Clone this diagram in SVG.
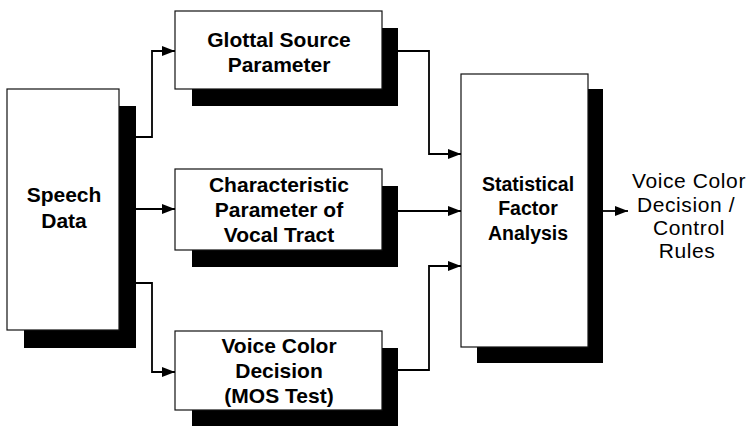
<svg xmlns="http://www.w3.org/2000/svg" width="753" height="426" viewBox="0 0 753 426">
  <style>
    .box { fill: #fff; stroke: #111; stroke-width: 1.2; }
    .shadow { fill: #000; }
    .bt { font-family: "Liberation Sans", Arial, sans-serif; font-weight: bold; font-size: 21px; fill: #000; text-anchor: middle; }
    .st { font-family: "Liberation Sans", Arial, sans-serif; font-weight: bold; font-size: 19.5px; fill: #000; text-anchor: middle; }
    .out { font-family: "Liberation Sans", Arial, sans-serif; font-size: 21px; fill: #000; text-anchor: middle; letter-spacing: 0.6px; }
    .conn { fill: none; stroke: #000; stroke-width: 1.8; marker-end: url(#arrow); }
  </style>
  <defs>
    <marker id="arrow" markerUnits="userSpaceOnUse" markerWidth="13" markerHeight="10" refX="13" refY="5" orient="auto">
      <path d="M0,0 L13,5 L0,10 Z" fill="#000"/>
    </marker>
  </defs>
  <rect width="753" height="426" fill="#fff"/>

  <g id="speech-data">
    <rect class="shadow" x="24" y="106" width="112" height="242"/>
    <rect class="box" x="7" y="89" width="112" height="241"/>
    <text class="bt" x="64" y="202">Speech</text>
    <text class="bt" x="64" y="228">Data</text>
  </g>

  <g id="glottal-source">
    <rect class="shadow" x="192" y="28" width="206" height="78"/>
    <rect class="box" x="175" y="11" width="207" height="78"/>
    <text class="bt" x="279" y="47">Glottal Source</text>
    <text class="bt" x="279" y="72">Parameter</text>
  </g>

  <g id="vocal-tract">
    <rect class="shadow" x="192" y="186" width="206" height="81"/>
    <rect class="box" x="175" y="169" width="207" height="81"/>
    <text class="bt" x="279" y="192">Characteristic</text>
    <text class="bt" x="279" y="217">Parameter of</text>
    <text class="bt" x="279" y="242">Vocal Tract</text>
  </g>

  <g id="mos-test">
    <rect class="shadow" x="192" y="348" width="206" height="80"/>
    <rect class="box" x="175" y="331" width="207" height="79"/>
    <text class="bt" x="279" y="353">Voice Color</text>
    <text class="bt" x="279" y="378">Decision</text>
    <text class="bt" x="279" y="403">(MOS Test)</text>
  </g>

  <g id="factor-analysis">
    <rect class="shadow" x="477" y="89" width="126" height="274"/>
    <rect class="box" x="461" y="74" width="127" height="273"/>
    <text class="st" x="528" y="191">Statistical</text>
    <text class="st" x="528" y="215">Factor</text>
    <text class="st" x="528" y="240">Analysis</text>
  </g>

  <g id="output">
    <text class="out" x="689" y="188">Voice Color</text>
    <text class="out" x="686" y="212">Decision /</text>
    <text class="out" x="689" y="235">Control</text>
    <text class="out" x="687" y="258">Rules</text>
  </g>

  <g id="connectors">
    <path class="conn" d="M136,137 H152 V51 H175"/>
    <path class="conn" d="M136,209 H175"/>
    <path class="conn" d="M136,283 H152 V372 H175"/>
    <path class="conn" d="M398,51 H429 V154 H461"/>
    <path class="conn" d="M398,211 H461"/>
    <path class="conn" d="M398,370 H429 V266 H461"/>
    <path class="conn" d="M603,211 H628"/>
  </g>
</svg>
